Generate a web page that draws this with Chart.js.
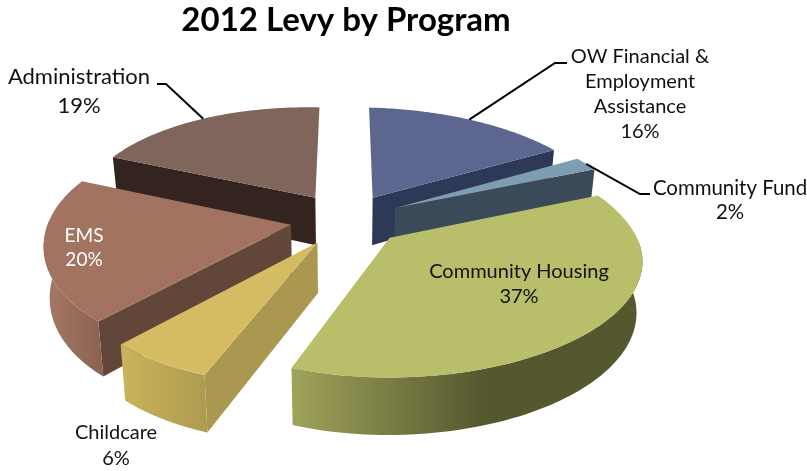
<!DOCTYPE html>
<html>
<head>
<meta charset="utf-8">
<title>2012 Levy by Program</title>
<style>
    html, body { margin: 0; padding: 0; background: #fff; }
    #wrap { position: relative; width: 807px; height: 471px; }
</style>
<script src="https://cdn.jsdelivr.net/npm/chart.js@4/dist/chart.umd.min.js"></script>
</head>
<body>
<div id="wrap"><canvas id="levyChart"></canvas></div>
<script>
    const programs = ["OW Financial & Employment Assistance", "Community Fund", "Community Housing", "Childcare", "EMS", "Administration"];
    const levyShare = [16, 2, 37, 6, 20, 19];

    const topColors = ["#5d668f", "#7f9db1", "#b8be69", "#d5bc62", "#a27361", "#7f655b"];
    const cutColors = ["#2e3958", "#3b4a58", "#4f512d", "#aa9850", "#624639", "#33241f"];
    const rimLeft = ["#2e3958", "#3b4a58", "#9fa35a", "#cbb45b", "#a87a64", "#33241f"];
    const rimRight = ["#2e3958", "#3b4a58", "#55572f", "#ad9b50", "#8b6451", "#33241f"];

    // label lines, centre x, first baseline, line gap, font size, colour
    const labelLines = [
        [["OW Financial &", "Employment", "Assistance", "16%"], 640, 63, 25, 20, "#111"],
        [["Community Fund", "2%"], 730, 195, 24, 20.4, "#111"],
        [["Community Housing", "37%"], 519, 278, 25, 20, "#111"],
        [["Childcare", "6%"], 116, 439, 26, 20, "#111"],
        [["EMS", "20%"], 84, 242, 24, 19, "#fff"],
        [["Administration", "19%"], 79, 84, 29, 22, "#111"]
    ];
    // knee and end of each leader, starting from the rim of the slice
    const leaders = {
        0: [[555, 63], [567, 63]],
        1: [[640, 194], [650, 194]],
        5: [[166, 84], [157, 84]]
    };

    // perspective of the tilted disc
    const scaleX = 243, scaleY = 111, tilt = 0.16, thick = 49;
    const roll = 4.5, frontLean = 13, leftSqueeze = 0.985;

    function project(el, u, v, down) {
        const w = 1 - tilt * v;
        let x = scaleX * u / w, y = scaleY * v / w + roll * u;
        if (u < 0) x *= leftSqueeze;
        if (v > 0) x -= frontLean * v * v;
        if (down) {
            x *= 0.98;
            y += thick * (1 + 0.15 * v);
        }
        return [el.x + x, el.y + y];
    }

    function tracePath(ctx, pts) {
        ctx.beginPath();
        pts.forEach((p, i) => i ? ctx.lineTo(p[0], p[1]) : ctx.moveTo(p[0], p[1]));
        ctx.closePath();
    }

    function sliceGeometry(el) {
        const s = el.startAngle + Math.PI / 2, e = el.endAngle + Math.PI / 2;
        const mid = (s + e) / 2, d = el.options.offset / el.outerRadius;
        const ou = d * Math.sin(mid), ov = -d * Math.cos(mid);
        return { s, e, mid, ou, ov };
    }

    function rimPoint(el, g, a, down) {
        return project(el, g.ou + Math.sin(a), g.ov - Math.cos(a), down);
    }

    function drawSlice(ctx, el, i) {
        const g = sliceGeometry(el);
        const apex = project(el, g.ou, g.ov, false), apexDown = project(el, g.ou, g.ov, true);
        const steps = 72, top = [];
        for (let k = 0; k <= steps; k++) {
            top.push(rimPoint(el, g, g.s + (g.e - g.s) * k / steps, false));
        }

        // cut faces turned towards the viewer
        const faces = [];
        if (Math.sin(g.s) < -1e-6) faces.push(g.s);
        if (Math.sin(g.e) > 1e-6) faces.push(g.e);
        faces.forEach(a => {
            tracePath(ctx, [apex, rimPoint(el, g, a, false), rimPoint(el, g, a, true), apexDown]);
            ctx.fillStyle = cutColors[i];
            ctx.fill();
        });

        // outer wall, only the part below the widest point of the disc
        const from = Math.max(g.s, Math.PI / 2), to = Math.min(g.e, 3 * Math.PI / 2);
        if (to > from) {
            const upper = [], lower = [];
            for (let k = 0; k <= steps; k++) {
                const a = from + (to - from) * k / steps;
                upper.push(rimPoint(el, g, a, false));
                lower.unshift(rimPoint(el, g, a, true));
            }
            const xs = upper.map(p => p[0]);
            const x0 = Math.min(...xs), x1 = Math.max(...xs);
            const grad = ctx.createLinearGradient(x0, 0, x1, 0);
            grad.addColorStop(0, rimLeft[i]);
            grad.addColorStop(i === 2 ? 0.55 : 1, rimRight[i]);
            grad.addColorStop(1, rimRight[i]);
            tracePath(ctx, upper.concat(lower));
            ctx.fillStyle = grad;
            ctx.fill();
        }

        tracePath(ctx, [apex].concat(top));
        ctx.fillStyle = el.options.backgroundColor;
        ctx.fill();
    }

    const tiltedPie = {
        id: "tiltedPie",
        beforeDatasetsDraw(chart) {
            const ctx = chart.ctx;
            const arcs = chart.getDatasetMeta(0).data;
            const order = arcs.map((el, i) => i).sort((a, b) =>
                sliceGeometry(arcs[a]).ov - sliceGeometry(arcs[b]).ov);
            ctx.save();
            order.forEach(i => drawSlice(ctx, arcs[i], i));

            ctx.strokeStyle = "#000";
            ctx.lineWidth = 2;
            Object.keys(leaders).forEach(i => {
                const el = arcs[i], g = sliceGeometry(el);
                const start = rimPoint(el, g, g.mid, false);
                ctx.beginPath();
                ctx.moveTo(start[0], start[1]);
                leaders[i].forEach(p => ctx.lineTo(p[0], p[1]));
                ctx.stroke();
            });

            ctx.textAlign = "center";
            ctx.textBaseline = "alphabetic";
            labelLines.forEach(l => {
                ctx.font = l[4] + "px Lato";
                ctx.fillStyle = l[5];
                l[0].forEach((t, k) => ctx.fillText(t, l[1], l[2] + k * l[3]));
            });
            ctx.restore();
            return false;
        }
    };

    new Chart(document.getElementById("levyChart"), {
        type: "pie",
        data: {
            labels: programs,
            datasets: [{
                data: levyShare,
                backgroundColor: topColors,
                borderWidth: 0,
                offset: 28.2
            }]
        },
        options: {
            responsive: true,
            maintainAspectRatio: false,
            animation: false,
            radius: 120,
            events: [],
            layout: { padding: { top: 0, right: 115, bottom: 78, left: 0 } },
            plugins: {
                legend: { display: false },
                tooltip: { enabled: false },
                title: {
                    display: true,
                    text: "2012 Levy by Program",
                    color: "#000",
                    font: { family: "Lato", size: 33, weight: "bold" },
                    padding: { top: 1, bottom: 5 }
                }
            }
        },
        plugins: [tiltedPie]
    });
</script>
</body>
</html>
